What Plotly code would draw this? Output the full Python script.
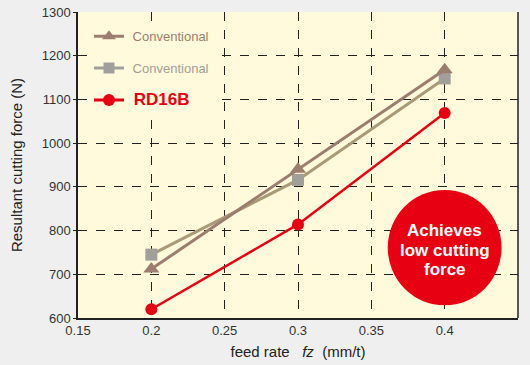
import plotly.graph_objects as go

feed_rate = [0.2, 0.3, 0.4]
conv_triangle = [712, 940, 1168]
conv_square = [745, 916, 1148]
rd16b = [620, 814, 1069]

x_ticks = [0.15, 0.2, 0.25, 0.3, 0.35, 0.4, 0.45]
y_ticks = [600, 700, 800, 900, 1000, 1100, 1200, 1300]

C_TRI = "#9c7e70"
C_SQ_LINE = "#a99b78"
C_SQ_MARK = "#a19f99"
C_RED = "#e60012"
PLOT_BG = "#fffadb"
FONT = "Liberation Sans, Arial, sans-serif"

fig = go.Figure()

fig.add_trace(go.Scatter(
    x=feed_rate, y=conv_square, mode="lines+markers",
    line=dict(color=C_SQ_LINE, width=3),
    marker=dict(symbol="square", size=12, color=C_SQ_MARK),
    showlegend=False, cliponaxis=False))
fig.add_trace(go.Scatter(
    x=feed_rate, y=conv_triangle, mode="lines+markers",
    line=dict(color=C_TRI, width=3),
    marker=dict(symbol="triangle-up", size=14, color=C_TRI),
    showlegend=False, cliponaxis=False))
fig.add_trace(go.Scatter(
    x=feed_rate, y=rd16b, mode="lines+markers",
    line=dict(color=C_RED, width=2.5),
    marker=dict(symbol="circle", size=12, color=C_RED),
    showlegend=False, cliponaxis=False))

# legend entries
fig.add_trace(go.Scatter(
    x=[None], y=[None], mode="lines+markers",
    line=dict(color=C_TRI, width=3),
    marker=dict(symbol="triangle-up", size=12, color=C_TRI),
    name='<span style="color:%s">&nbsp;Conventional</span>' % C_TRI,
    legendgroup="a"))
fig.add_trace(go.Scatter(
    x=[None], y=[None], mode="lines+markers",
    line=dict(color=C_SQ_MARK, width=3),
    marker=dict(symbol="square", size=11, color=C_SQ_MARK),
    name='<span style="color:%s">&nbsp;Conventional</span>' % C_SQ_MARK,
    legendgroup="b"))
fig.add_trace(go.Scatter(
    x=[None], y=[None], mode="lines+markers",
    line=dict(color=C_RED, width=3),
    marker=dict(symbol="circle", size=12, color=C_RED),
    name='<span style="color:%s;font-size:17px"><b>&nbsp;RD16B</b></span>' % C_RED,
    legendgroup="c"))

# Callout circle
fig.add_shape(type="circle", xref="x", yref="y",
              x0=0.3612, x1=0.4388, y0=629, y1=893,
              fillcolor=C_RED, line=dict(width=0), layer="above")
callout_lines = ["Achieves", "low cutting", "force"]
for i, t in enumerate(callout_lines):
    fig.add_annotation(x=0.4, y=761, xref="x", yref="y",
                       text="<b>%s</b>" % t, showarrow=False,
                       yshift=17 - 19.5 * i, borderpad=0,
                       font=dict(color="white", size=17, family=FONT))

# right border
fig.add_shape(type="line", xref="paper", yref="paper", x0=1, x1=1, y0=0, y1=1,
              line=dict(color="#222", width=1.5))

fig.update_layout(
    width=530, height=365,
    margin=dict(l=78, r=12, t=12, b=47, autoexpand=False),
    paper_bgcolor="#efefef",
    plot_bgcolor=PLOT_BG,
    font=dict(family=FONT, color="#333", size=13),
    legend=dict(x=0.025, y=0.97, xanchor="left", yanchor="top",
                bgcolor=PLOT_BG, borderwidth=0, font=dict(size=13),
                tracegroupgap=12, traceorder="grouped"),
    xaxis=dict(range=[0.15, 0.45], tickvals=x_ticks,
               ticktext=[str(v) for v in x_ticks],
               showgrid=True, gridcolor="#222", griddash="dash", gridwidth=1,
               showline=True, linecolor="#222", linewidth=1.5, mirror=False,
               zeroline=False, ticks="",
               tickfont=dict(size=13, color="#333"), automargin=False,
               title=dict(text="feed rate   <i>fz</i>  (mm/t)", font=dict(size=15, color="#222"),
                          standoff=9)),
    yaxis=dict(range=[600, 1300], tickvals=y_ticks,
               showgrid=True, gridcolor="#222", griddash="dash", gridwidth=1,
               showline=True, linecolor="#222", linewidth=1.5, mirror=False,
               zeroline=False, ticks="outside", ticklen=3, tickcolor="#222",
               tickfont=dict(size=13, color="#333"), automargin=False,
               title=dict(text="Resultant cutting force (N)", font=dict(size=15, color="#222"))),
)

fig.write_html("out.html")
